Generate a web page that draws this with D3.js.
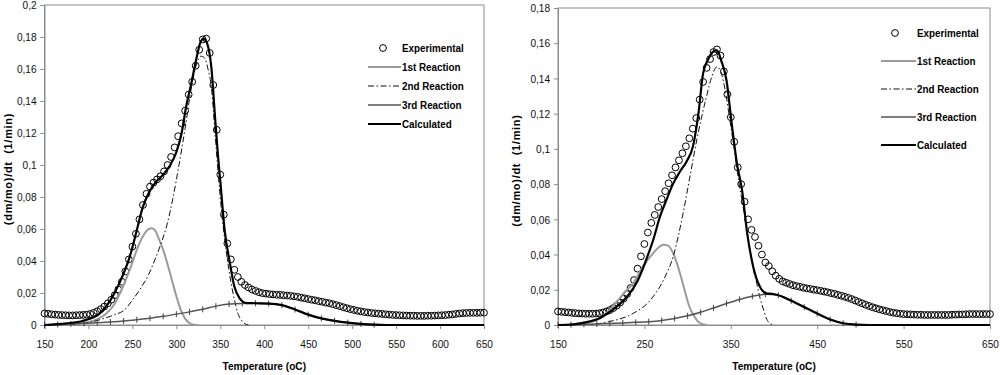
<!DOCTYPE html>
<html><head><meta charset="utf-8">
<script src="https://cdn.jsdelivr.net/npm/d3@7"></script>
<style>body{margin:0;background:#fff}svg{display:block}</style>
</head><body><svg id="c" width="1000" height="375"></svg>
<script>
const legendLabels = ["Experimental","1st Reaction","2nd Reaction","3rd Reaction","Calculated"];
const xTitle = "Temperature (oC)";
const yTitle = "(dm/mo)/dt  (1/min)";
const xTicksLeft = [150,200,250,300,350,400,450,500,550,600,650];
const xTicksRight = [150,250,350,450,550,650];
const yTicksLeft = [0,0.02,0.04,0.06,0.08,0.1,0.12,0.14,0.16,0.18,0.2];
const yLabelsLeft = ["0","0,02","0,04","0,06","0,08","0,1","0,12","0,14","0,16","0,18","0,2"];
const yTicksRight = [0,0.02,0.04,0.06,0.08,0.1,0.12,0.14,0.16,0.18];
const yLabelsRight = ["0","0,02","0,04","0,06","0,08","0,1","0,12","0,14","0,16","0,18"];

// Experimental temperatures (shared by both charts)
const expTemp = [150,154,158,162,166,170,174,178,182,186,190,194,198,202,206,210,214,218,222,226,230,234,238,242,246,250,254,258,262,266,270,274,278,282,286,290,294,298,302,306,310,314,318,322,326,330,334,338,342,346,350,354,358,362,366,370,374,378,382,386,390,394,398,402,406,410,414,418,422,426,430,434,438,442,446,450,454,458,462,466,470,474,478,482,486,490,494,498,502,506,510,514,518,522,526,530,534,538,542,546,550,554,558,562,566,570,574,578,582,586,590,594,598,602,606,610,614,618,622,626,630,634,638,642,646,650];

// ---- Left chart ----
const expLeft = [.0072,.0070,.0067,.0065,.0063,.0062,.0061,.0060,.0060,.0061,
.0062,.0063,.0065,.0069,.0076,.0086,.0099,.0115,.0135,.0158,
.0187,.0222,.0270,.0335,.0410,.0490,.0570,.0660,.0750,.0820,
.0865,.0890,.0910,.0930,.0960,.1000,.1050,.1110,.1180,.1260,
.1340,.1440,.1520,.1620,.1720,.1785,.1790,.1700,.1500,.1220,
.0940,.0690,.0510,.0410,.0345,.0300,.0270,.0250,.0235,.0222,
.0213,.0205,.0199,.0196,.0193,.0191,.0189,.0188,.0186,.0184,
.0182,.0179,.0176,.0171,.0167,.0162,.0158,.0154,.0149,.0145,
.0140,.0136,.0130,.0124,.0118,.0111,.0105,.0099,.0094,.0089,
.0085,.0081,.0078,.0075,.0073,.0071,.0069,.0067,.0065,.0063,
.0062,.0061,.0060,.0059,.0058,.0058,.0057,.0057,.0057,.0058,
.0058,.0059,.0060,.0061,.0062,.0064,.0066,.0069,.0072,.0074,
.0075,.0076,.0076,.0076,.0077,.0077];
const r1LeftT = [150,170,190,200,210,220,230,240,248,255,262,268,272,276,280,285,290,295,300,305,310,315,320,325];
const r1LeftV = [0,.0003,.001,.0018,.0035,.007,.0135,.025,.036,.047,.0555,.0598,.0605,.059,.054,.047,.038,.028,.018,.0095,.004,.0012,.0002,0];
const r2LeftT = [150,170,190,200,210,220,230,240,250,260,268,275,282,289,296,303,310,317,323,328,332,336,340,344,348,352,357,362,366,370,374,378,382];
const r2LeftV = [0,.0002,.0008,.0015,.0028,.0045,.0065,.009,.0155,.0235,.031,.04,.05,.062,.079,.1,.123,.148,.163,.168,.167,.16,.148,.12,.092,.068,.045,.027,.016,.0073,.003,.0008,0];
const r3LeftT = [150,165,180,195,210,225,240,255,270,285,300,315,330,345,360,375,390,405,420,435,450,465,480,495,510,525];
const r3LeftV = [0,.0003,.0006,.001,.0014,.0019,.0025,.0033,.0042,.0054,.0068,.0082,.0098,.0118,.0131,.0135,.0136,.0134,.0124,.0097,.0065,.0041,.0026,.0015,.0007,.0002];
const calcLeftT = [150,175,194,213,224,235,247,254,262,270,277,285,292,300,306,311,317,323,327,331,335,340,344,347.5,350,355,361,366,372,380,390,405,420,435,450,465,480,495,510,525,540,650];
const calcLeftV = [0,.001,.0027,.0073,.0146,.026,.0427,.057,.074,.084,.0896,.094,.099,.108,.12,.136,.151,.167,.176,.179,.176,.16,.13,.105,.09,.059,.0385,.024,.0167,.0137,.0136,.0134,.0124,.0097,.0065,.0041,.0026,.0015,.0007,.0002,0,0];

// ---- Right chart ----
const expRight = [.0077,.0075,.0073,.0071,.0069,.0067,.0066,.0065,.0064,.0064,
.0064,.0065,.0067,.0071,.0077,.0085,.0096,.0110,.0128,.0150,
.0175,.0210,.0255,.0320,.0390,.0460,.0525,.0580,.0625,.0670,
.0715,.0760,.0805,.0850,.0895,.0935,.0975,.1015,.1060,.1115,
.1175,.1280,.1380,.1460,.1510,.1550,.1565,.1530,.1440,.1310,
.1180,.1040,.0895,.0800,.0700,.0600,.0540,.0500,.0450,.0400,
.0355,.0335,.0305,.0280,.0262,.0248,.0240,.0233,.0226,.0221,
.0217,.0212,.0208,.0205,.0201,.0198,.0194,.0190,.0186,.0181,
.0177,.0171,.0166,.0160,.0154,.0147,.0139,.0131,.0123,.0115,
.0108,.0101,.0095,.0089,.0084,.0079,.0074,.0070,.0067,.0064,
.0062,.0061,.0060,.0059,.0058,.0058,.0057,.0057,.0057,.0057,
.0057,.0057,.0057,.0057,.0058,.0059,.0060,.0060,.0061,.0062,
.0062,.0062,.0062,.0062,.0062,.0062];
const r1RightT = [150,175,190,200,210,218,228,237,248,260,267,272,277,282,287,292,297,302,307,311,316,322];
const r1RightV = [0,.0008,.002,.0045,.0085,.0132,.019,.0237,.033,.0407,.0443,.0455,.0452,.042,.036,.028,.019,.0105,.0055,.0025,.0006,0];
const r2RightT = [150,185,210,237,257,272,284,295,303,311,322,328,334,339,344,349,354,359,364,368,372,376,380,384,388,391,395,400];
const r2RightV = [0,.0003,.002,.0066,.0142,.0255,.04,.064,.085,.106,.13,.141,.1467,.143,.132,.116,.1,.082,.068,.055,.0426,.032,.0237,.015,.0085,.004,.001,0];
const r3RightT = [150,165,180,195,210,225,240,255,270,285,300,315,330,345,360,375,390,405,420,435,450,465,480,495];
const r3RightV = [0,.0002,.0004,.0006,.0009,.0012,.0015,.0019,.0026,.0037,.0052,.0072,.0097,.0122,.0145,.0163,.0174,.0169,.0138,.0102,.0065,.0031,.001,.0002];
const calcRightT = [150,166,182,198,208,218,228,237,243,249,255,260,268,275.5,283,291,299,306.5,312.5,318,324,329,334,339,345,351,357,363,369,376,383.7,391,399,405,420,435,450,465,480,495,510,650];
const calcRightV = [0,.0003,.0015,.0038,.0068,.0104,.015,.0208,.026,.033,.041,.048,.0615,.071,.08,.087,.093,.102,.12,.143,.151,.155,.156,.15,.139,.1145,.092,.0767,.052,.033,.0217,.018,.0176,.0169,.0138,.0102,.0065,.0031,.001,.0002,0,0];

const FONT = "'Liberation Sans', Arial, sans-serif";
const svg = d3.select('#c');

function styleLine(p, k) {
  if (k === 1) p.attr('stroke', '#9a9a9a').attr('stroke-width', 2);
  if (k === 2) p.attr('stroke', '#111').attr('stroke-width', 1).attr('stroke-dasharray', '6,2.5,1.5,2.5');
  if (k === 3) p.attr('stroke', '#555').attr('stroke-width', 1.5);
  if (k === 4) p.attr('stroke', '#000').attr('stroke-width', 2.2);
  return p;
}

function drawChart(o) {
  const x = d3.scaleLinear().domain([150, 650]).range([o.x0, o.x1]);
  const y = d3.scaleLinear().domain([0, o.yMax]).range([o.yB, o.yT]);
  const g = svg.append('g');
  g.append('rect').attr('x', o.x0).attr('y', o.yT).attr('width', o.x1 - o.x0).attr('height', o.yB - o.yT)
    .attr('fill', 'none').attr('stroke', '#8c8c8c');

  const ya = g.append('g').attr('transform', `translate(${o.x0},0)`)
    .call(d3.axisLeft(y).tickValues(o.yTicks).tickFormat((d, i) => o.yLabels[i]).tickSize(4).tickPadding(5));
  ya.attr('font-family', FONT).attr('font-size', 11.5);
  ya.select('.domain').attr('stroke', '#8c8c8c');
  ya.selectAll('.tick line').attr('stroke', '#8c8c8c');
  ya.selectAll('.tick text').attr('fill', '#111').attr('transform', 'scale(0.88,1)');

  const xa = g.append('g').attr('transform', `translate(0,${o.yB})`)
    .call(d3.axisBottom(x).tickValues(o.xTicks).tickFormat(d3.format('d')).tickSize(4).tickPadding(11));
  xa.attr('font-family', FONT).attr('font-size', 11.5);
  xa.select('.domain').attr('stroke', '#8c8c8c');
  xa.selectAll('.tick line').attr('stroke', '#8c8c8c');
  xa.selectAll('.tick text').attr('fill', '#111').attr('transform', 'scale(0.88,1)');

  // titles
  g.append('text').attr('transform', `translate(${(o.x0 + o.x1) / 2},${o.yB + 45}) scale(0.88,1)`)
    .attr('text-anchor', 'middle').attr('font-family', FONT).attr('font-weight', 'bold').attr('font-size', 11.5)
    .text(xTitle);
  g.append('text').attr('transform', `translate(${o.ytx},${(o.yT + o.yB) / 2 + 4}) rotate(-90)`)
    .attr('text-anchor', 'middle').attr('font-family', FONT).attr('font-weight', 'bold').attr('font-size', 11)
    .attr('letter-spacing', 0.7).style('white-space', 'pre').text(yTitle);

  // experimental circles
  g.append('g').selectAll('circle').data(d3.zip(expTemp, o.exp)).join('circle')
    .attr('cx', d => x(d[0])).attr('cy', d => y(d[1])).attr('r', 3.4)
    .attr('fill', 'none').attr('stroke', '#000').attr('stroke-width', 1);

  const line = d3.line().x(d => x(d[0])).y(d => y(d[1])).curve(d3.curveMonotoneX);
  styleLine(g.append('path').attr('d', line(d3.zip(o.r1T, o.r1V))).attr('fill', 'none'), 1);
  styleLine(g.append('path').attr('d', line(d3.zip(o.r2T, o.r2V))).attr('fill', 'none'), 2);
  const r3 = d3.zip(o.r3T, o.r3V);
  styleLine(g.append('path').attr('d', line(r3)).attr('fill', 'none'), 3);
  g.append('g').selectAll('line').data(r3).join('line')
    .attr('x1', d => x(d[0])).attr('x2', d => x(d[0]))
    .attr('y1', d => y(d[1]) - 3).attr('y2', d => y(d[1]) + 3)
    .attr('stroke', '#444').attr('stroke-width', 1);
  styleLine(g.append('path').attr('d', line(d3.zip(o.cT, o.cV))).attr('fill', 'none'), 4);

  // legend
  const lg = g.append('g');
  legendLabels.forEach((lab, i) => {
    const yy = o.legY[i];
    if (i === 0) {
      lg.append('circle').attr('cx', o.legC).attr('cy', yy).attr('r', 3.4)
        .attr('fill', 'none').attr('stroke', '#000');
    } else {
      styleLine(lg.append('line').attr('x1', o.legL0).attr('x2', o.legL1).attr('y1', yy).attr('y2', yy), i);
    }
    lg.append('text').attr('transform', `translate(${o.legT},${yy + 4}) scale(0.88,1)`)
      .attr('font-family', FONT).attr('font-weight', 'bold').attr('font-size', 11.2).text(lab);
  });
}

drawChart({x0: 44.5, x1: 484, yT: 5, yB: 325, yMax: 0.2, xTicks: xTicksLeft, yTicks: yTicksLeft, yLabels: yLabelsLeft,
  ytx: 12, exp: expLeft, r1T: r1LeftT, r1V: r1LeftV, r2T: r2LeftT, r2V: r2LeftV, r3T: r3LeftT, r3V: r3LeftV,
  cT: calcLeftT, cV: calcLeftV, legY: [48, 67, 86, 105, 124], legC: 383, legL0: 368, legL1: 401, legT: 402});

drawChart({x0: 558, x1: 990, yT: 8, yB: 325, yMax: 0.18, xTicks: xTicksRight, yTicks: yTicksRight, yLabels: yLabelsRight,
  ytx: 520, exp: expRight, r1T: r1RightT, r1V: r1RightV, r2T: r2RightT, r2V: r2RightV, r3T: r3RightT, r3V: r3RightV,
  cT: calcRightT, cV: calcRightV, legY: [33, 61, 89, 117, 145], legC: 895, legL0: 881, legL1: 916, legT: 917});
</script></body></html>
